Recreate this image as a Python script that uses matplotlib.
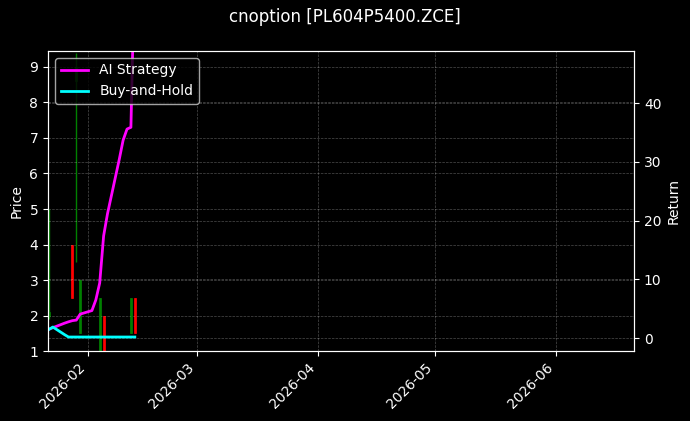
import pandas as pd
import matplotlib
matplotlib.use('Agg')
import matplotlib.pyplot as plt
import matplotlib.dates as mdates

# Candles (only days with a visible bar)
candle_dates = pd.to_datetime(['2026-01-22', '2026-01-28', '2026-01-29', '2026-01-30',
                               '2026-02-04', '2026-02-05', '2026-02-12', '2026-02-13'])
opens = [2.0, 4.0, 8.6, 1.5, 0.9, 2.0, 1.5, 2.5]
highs = [5.0, 4.0, 9.4, 3.0, 2.5, 2.0, 2.5, 2.5]
lows = [1.9, 2.5, 3.5, 1.5, 0.9, 0.9, 1.5, 1.5]
closes = [2.1, 2.5, 9.0, 3.0, 2.5, 0.9, 2.5, 1.5]

# Equity curves
curve_dates = pd.to_datetime(['2026-01-22', '2026-01-23', '2026-01-26', '2026-01-27',
                              '2026-01-28', '2026-01-29', '2026-01-30', '2026-02-02',
                              '2026-02-03', '2026-02-04', '2026-02-05', '2026-02-06',
                              '2026-02-09', '2026-02-10', '2026-02-11', '2026-02-12',
                              '2026-02-13'])
ai_strategy = [1.54, 1.79, 2.56, 2.79, 2.99, 3.08, 4.10, 4.70,
               6.50, 9.40, 17.4, 21.2, 30.4, 33.7, 35.6, 35.9, 65.0]
buy_hold = [1.5, 1.9, 0.6, 0.2, 0.2, 0.2, 0.2, 0.2,
            0.2, 0.2, 0.2, 0.2, 0.2, 0.2, 0.2, 0.2, 0.2]

plt.style.use('dark_background')
fig, ax1 = plt.subplots(figsize=(6.9, 4.21), dpi=100)
fig.subplots_adjust(left=0.0696, right=0.919, bottom=0.166, top=0.879)

colors = ['green' if c >= o else 'red' for o, c in zip(opens, closes)]
ax1.vlines(candle_dates, lows, highs, colors=colors, linewidth=1)
ax1.bar(candle_dates, [c - o for o, c in zip(opens, closes)], bottom=opens,
        width=0.5, color=colors, edgecolor=colors, linewidth=0.5)
ax1.set_ylabel('Price')
ax1.set_ylim(1, 9.45)
ax1.grid(True, linestyle='--', linewidth=0.5, alpha=0.3)

ax2 = ax1.twinx()
ax2.plot(curve_dates, ai_strategy, color='magenta', linewidth=2, label='AI Strategy')
ax2.plot(curve_dates, buy_hold, color='cyan', linewidth=2, label='Buy-and-Hold')
ax2.set_ylabel('Return')
ax2.set_ylim(-2.2, 48.9)
ax2.grid(True, linestyle='--', linewidth=0.5, alpha=0.3)
ax2.legend(loc='upper left')

ax1.set_xlim(pd.Timestamp('2026-01-21 18:00'), pd.Timestamp('2026-06-21'))
ax1.xaxis.set_major_locator(mdates.MonthLocator())
ax1.xaxis.set_major_formatter(mdates.DateFormatter('%Y-%m'))
plt.setp(ax1.get_xticklabels(), rotation=45, ha='right')

fig.suptitle('cnoption [PL604P5400.ZCE]')
plt.savefig('out.png')
plt.close()
